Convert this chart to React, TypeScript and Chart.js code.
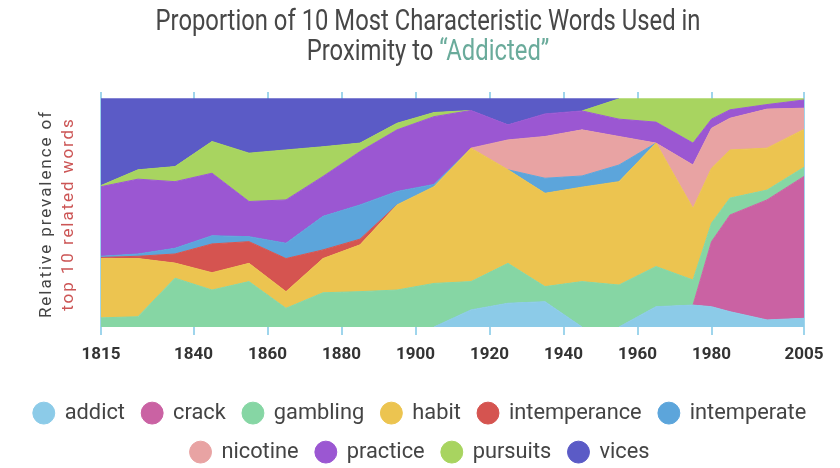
import { useEffect, useRef } from "react";
import { Chart, registerables } from "chart.js";

Chart.register(...registerables);

// ---- data ----
const years = [1815, 1825, 1835, 1845, 1855, 1865, 1875, 1885, 1895, 1905, 1915, 1925, 1935, 1945, 1955, 1965, 1975, 1980, 1985, 1995, 2005];
const tickYears = [1815, 1840, 1860, 1880, 1900, 1920, 1940, 1960, 1980, 2005];

const addict = [0, 0, 0, 0, 0, 0, 0, 0, 0, 0, 0.075, 0.104, 0.111, 0, 0, 0.089, 0.096, 0.089, 0.067, 0.031, 0.038];
const crack = [0, 0, 0, 0, 0, 0, 0, 0, 0, 0, 0, 0, 0, 0, 0, 0, 0, 0.285, 0.424, 0.526, 0.622];
const gambling = [0.04, 0.045, 0.214, 0.162, 0.199, 0.082, 0.15, 0.155, 0.162, 0.191, 0.124, 0.175, 0.066, 0.199, 0.184, 0.176, 0.11, 0.081, 0.074, 0.043, 0.04];
const habit = [0.26, 0.255, 0.066, 0.076, 0.08, 0.073, 0.15, 0.205, 0.373, 0.424, 0.585, 0.41, 0.409, 0.414, 0.453, 0.541, 0.314, 0.241, 0.211, 0.184, 0.166];
const intemperance = [0.005, 0.01, 0.04, 0.126, 0.095, 0.145, 0.038, 0.025, 0, 0, 0, 0, 0, 0, 0, 0, 0, 0, 0, 0, 0];
const intemperate = [0.005, 0.01, 0.025, 0.036, 0.022, 0.067, 0.147, 0.15, 0.059, 0.01, 0, 0, 0.066, 0.049, 0.073, 0, 0, 0, 0, 0, 0];
const nicotine = [0, 0, 0, 0, 0, 0, 0, 0, 0, 0, 0, 0.131, 0.183, 0.202, 0.125, 0, 0.19, 0.175, 0.139, 0.171, 0.093];
const practice = [0.305, 0.328, 0.292, 0.274, 0.154, 0.19, 0.175, 0.234, 0.27, 0.297, 0.165, 0.066, 0.099, 0.083, 0.076, 0.092, 0.096, 0.04, 0.037, 0.02, 0.036];
const pursuits = [0.005, 0.041, 0.066, 0.139, 0.212, 0.219, 0.13, 0.037, 0.029, 0.018, 0, 0, 0, 0, 0.089, 0.102, 0.194, 0.089, 0.048, 0.025, 0.005];
const vices = [0.38, 0.311, 0.297, 0.187, 0.238, 0.224, 0.21, 0.194, 0.107, 0.06, 0.051, 0.114, 0.066, 0.053, 0, 0, 0, 0, 0, 0, 0];

const seriesNames = ["addict", "crack", "gambling", "habit", "intemperance", "intemperate", "nicotine", "practice", "pursuits", "vices"];
const seriesValues = [addict, crack, gambling, habit, intemperance, intemperate, nicotine, practice, pursuits, vices];
const seriesColors = ["#8ccbe8", "#ca62a3", "#86d6a4", "#ecc450", "#d55450", "#5ca5db", "#e8a3a3", "#9b57d2", "#a8d460", "#5b5bc6"];

const titleLine1 = "Proportion of 10 Most Characteristic Words Used in";
const titleLine2a = "Proximity to ";
const titleLine2b = "\u201CAddicted\u201D";
const yLabel1 = "Relative prevalence of";
const yLabel2 = "top 10 related words";

const FONT = "Roboto";

function fitSize(text: string, weight: string, family: string, target: number): number {
  const c = document.createElement("canvas").getContext("2d")!;
  c.font = `${weight} 100px ${family}`;
  const w = c.measureText(text).width;
  return Math.round(((100 * target) / w) * 10) / 10;
}

export default function App() {
  const ref = useRef<HTMLCanvasElement>(null);

  useEffect(() => {
    const canvas = ref.current!;

    const legendSize = fitSize("intemperance", "normal", FONT, 133);
    const tickSize = 17;
    const legendPad = Math.max(6, 39 - legendSize);
    const tickPad = 20 - 0.6 * tickSize;

    const textPlugin = {
      id: "customText",
      afterDraw(chart: any) {
        const ctx: CanvasRenderingContext2D = chart.ctx;
        // title, drawn condensed
        ctx.save();
        ctx.textBaseline = "middle";
        ctx.font = `normal 29px ${FONT}`;
        const w1 = ctx.measureText(titleLine1).width;
        const sx = 545 / w1;
        ctx.save();
        ctx.translate(428, 23);
        ctx.scale(sx, 1);
        ctx.textAlign = "center";
        ctx.fillStyle = "#474747";
        ctx.fillText(titleLine1, 0, 0);
        ctx.restore();
        const wa = ctx.measureText(titleLine2a).width;
        const wb = ctx.measureText(titleLine2b).width;
        ctx.save();
        ctx.translate(428, 53);
        ctx.scale(sx, 1);
        ctx.textAlign = "left";
        const x0 = -(wa + wb) / 2;
        ctx.fillStyle = "#474747";
        ctx.fillText(titleLine2a, x0, 0);
        ctx.fillStyle = "#6aab9b";
        ctx.fillText(titleLine2b, x0 + wa, 0);
        ctx.restore();

        // rotated y-axis label
        ctx.font = `17px ${FONT}`;
        const wy = ctx.measureText(yLabel1).width;
        const sp = Math.max(0, (208 - wy) / yLabel1.length);
        (ctx as any).letterSpacing = `${sp.toFixed(2)}px`;
        ctx.translate(47, 214);
        ctx.rotate(-Math.PI / 2);
        ctx.textAlign = "center";
        ctx.fillStyle = "#444444";
        ctx.fillText(yLabel1, 0, 0);
        ctx.fillStyle = "#cc5555";
        ctx.fillText(yLabel2, 0, 22);
        ctx.restore();
      },
    };

    const datasets = seriesNames.map((name, i) => {
      const vals = seriesValues[i];
      const color = seriesColors[i];
      return {
        label: name,
        data: years.map((y, j) => ({ x: y, y: vals[j] })),
        backgroundColor: color,
        borderColor: color,
        borderWidth: 1,
        pointRadius: 0,
        pointHoverRadius: 0,
        tension: 0,
        yAxisID: "y",
        fill: i === 0 ? "origin" : "-1",
        segment: {
          borderColor: (c: any) =>
            vals[c.p0DataIndex] === 0 && vals[c.p1DataIndex] === 0 ? "rgba(0,0,0,0)" : color,
        },
      };
    });

    const chart = new Chart(canvas, {
      type: "line",
      data: { datasets: datasets as any },
      plugins: [textPlugin],
      options: {
        animation: false,
        responsive: false,
        events: [],
        layout: { padding: { left: 0, right: 0, top: 92, bottom: 0 } },
        plugins: {
          title: { display: false },
          tooltip: { enabled: false },
          legend: {
            display: true,
            position: "bottom",
            labels: {
              usePointStyle: true,
              pointStyle: "circle",
              boxWidth: 20,
              boxHeight: 15.5,
              padding: legendPad,
              color: "#444444",
              font: { family: FONT, size: legendSize, weight: "normal" },
            },
          },
        },
        scales: {
          x: {
            type: "linear",
            min: 1815,
            max: 2005,
            z: 1,
            afterBuildTicks: (scale: any) => {
              scale.ticks = tickYears.map((v) => ({ value: v }));
            },
            afterFit: (scale: any) => {
              scale.height = 58;
            },
            grid: {
              display: true,
              drawOnChartArea: true,
              drawTicks: true,
              tickLength: 8,
              color: "#9fd5ec",
              lineWidth: 2,
            },
            border: { display: false },
            ticks: {
              autoSkip: false,
              maxRotation: 0,
              padding: tickPad,
              color: "#333333",
              font: { family: FONT, size: tickSize, weight: "bold" },
              callback: (v: any) => String(v),
            },
          },
          y: {
            type: "linear",
            position: "left",
            stacked: true,
            display: true,
            min: 0,
            max: 1.03,
            grid: { display: false },
            border: { display: false },
            ticks: { display: false },
            afterFit: (scale: any) => {
              scale.width = 101;
            },
          },
          yRight: {
            type: "linear",
            position: "right",
            display: true,
            grid: { display: false },
            border: { display: false },
            ticks: { display: false },
            afterFit: (scale: any) => {
              scale.width = 36;
            },
          },
        },
      } as any,
    });

    return () => chart.destroy();
  }, []);

  return (
    <div
      style={{
        position: "fixed",
        left: 0,
        top: 0,
        width: 840,
        height: 468,
        overflow: "hidden",
        background: "#ffffff",
      }}
    >
      <canvas ref={ref} width={840} height={473} style={{ display: "block", width: 840, height: 473 }} />
    </div>
  );
}
